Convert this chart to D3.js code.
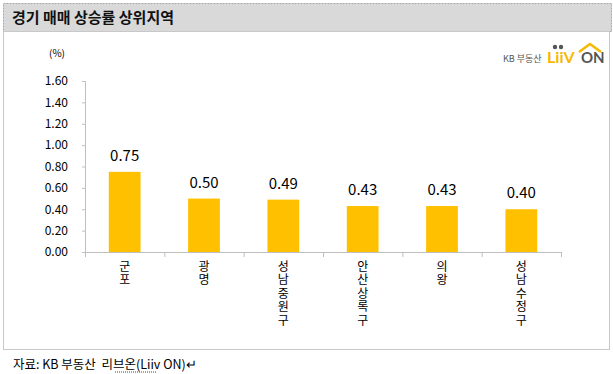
<!DOCTYPE html>
<html>
<head>
<meta charset="utf-8">
<script src="https://cdn.jsdelivr.net/npm/d3@7"></script>
<style>
  body { margin: 0; background: #fff; }
  svg { display: block; font-family: "Noto Sans CJK KR", "Noto Sans", sans-serif; }
</style>
</head>
<body>
<div id="container"></div>
<script>
// data
var regions = ["군포", "광명", "성남중원구", "안산상록구", "의왕", "성남수정구"]
var values = [0.75, 0.50, 0.49, 0.43, 0.43, 0.40]
var yTicks = [0, 0.2, 0.4, 0.6, 0.8, 1.0, 1.2, 1.4, 1.6]

var W = 613, H = 374
var svg = d3.select("#container").append("svg")
    .attr("width", W)
    .attr("height", H)

// title bar
svg.append("rect")
    .attr("x", 3.5).attr("y", 3.5)
    .attr("width", 608).attr("height", 28)
    .attr("fill", "#d9d9d9")
    .attr("stroke", "#a6a6a6")
    .attr("stroke-dasharray", "2,1")
svg.append("text")
    .attr("x", 12).attr("y", 23)
    .attr("font-size", 15)
    .attr("font-weight", "bold")
    .attr("fill", "#111")
    .text("경기 매매 상승률 상위지역")

// chart box
svg.append("rect")
    .attr("x", 3.5).attr("y", 31.5)
    .attr("width", 606).attr("height", 318)
    .attr("fill", "#fff")
    .attr("stroke", "#c8c8c8")

// logo
var logo = svg.append("g").attr("transform", "translate(503,62)")
logo.append("text")
    .attr("x", 0).attr("y", 0)
    .attr("font-size", 9)
    .attr("fill", "#555")
    .text("KB 부동산")
logo.append("text")
    .attr("x", 44).attr("y", 1)
    .attr("font-size", 16)
    .attr("font-weight", "bold")
    .attr("font-family", "Lato, sans-serif")
    .attr("fill", "#f6b800")
    .text("LiiV")
logo.append("circle").attr("cx", 52).attr("cy", -15).attr("r", 2.2).attr("fill", "#555")
logo.append("circle").attr("cx", 58).attr("cy", -15).attr("r", 2.2).attr("fill", "#555")
logo.append("text")
    .attr("x", 78).attr("y", 1)
    .attr("font-size", 15)
    .attr("font-weight", "bold")
    .attr("font-family", "Lato, sans-serif")
    .attr("fill", "#555")
    .text("ON")
logo.append("path")
    .attr("d", "M76,-10 L87,-18 L98,-10")
    .attr("fill", "none")
    .attr("stroke", "#f6b800")
    .attr("stroke-width", 2.5)

// scales
var x = d3.scaleBand()
    .domain(regions)
    .range([85, 561])
    .paddingInner(0.6)
    .paddingOuter(0.3)
var xb = d3.scaleBand().domain(regions).range([85, 561])

var y = d3.scaleLinear()
    .domain([0, 1.6])
    .range([252, 81])

// y axis
var yAxis = svg.append("g")
    .attr("transform", "translate(85,0)")
    .call(d3.axisLeft(y).tickValues(yTicks).tickSize(3).tickFormat(d3.format(".2f")))
yAxis.selectAll("path, line").attr("stroke", "#bfbfbf")
yAxis.selectAll("text")
    .attr("font-size", 12)
    .attr("font-family", "Noto Sans CJK KR")
    .attr("fill", "#000")
    .attr("x", -17)

svg.append("text")
    .attr("x", 57).attr("y", 57)
    .attr("font-size", 10)
    .attr("text-anchor", "middle")
    .text("(%)")

// bars
svg.append("g")
  .selectAll("rect")
  .data(values)
  .enter().append("rect")
    .attr("x", function(d, i) { return x(regions[i]) })
    .attr("y", function(d) { return y(d) })
    .attr("width", x.bandwidth())
    .attr("height", function(d) { return y(0) - y(d) })
    .attr("fill", "#ffc000")

// value labels
svg.append("g")
  .selectAll("text")
  .data(values)
  .enter().append("text")
    .attr("x", function(d, i) { return x(regions[i]) + x.bandwidth() / 2 })
    .attr("y", function(d) { return y(d) - 11 })
    .attr("text-anchor", "middle")
    .attr("font-size", 15)
    .attr("fill", "#000")
    .text(function(d) { return d.toFixed(2) })

// x axis
svg.append("line")
    .attr("x1", 85).attr("x2", 561)
    .attr("y1", 252.5).attr("y2", 252.5)
    .attr("stroke", "#bfbfbf")
svg.append("g")
  .selectAll("line")
  .data(d3.range(regions.length + 1))
  .enter().append("line")
    .attr("x1", function(i) { return 85.5 + i * xb.step() })
    .attr("x2", function(i) { return 85.5 + i * xb.step() })
    .attr("y1", 252).attr("y2", 257)
    .attr("stroke", "#bfbfbf")

// vertical category labels (upright, top to bottom)
svg.append("g")
  .selectAll("text")
  .data(regions)
  .enter().append("text")
    .attr("x", function(d) { return x(d) + x.bandwidth() / 2 })
    .attr("y", 260)
    .attr("font-size", 12)
    .attr("fill", "#000")
    .style("writing-mode", "vertical-rl")
    .style("text-orientation", "upright")
    .style("letter-spacing", "1.5px")
    .text(function(d) { return d })

// source
svg.append("text")
    .attr("x", 13).attr("y", 369)
    .attr("font-size", 12.5)
    .attr("fill", "#000")
    .attr("xml:space", "preserve")
    .style("white-space", "pre")
    .text("자료: KB 부동산  리브온(Liiv ON)↵")
svg.append("line")
    .attr("x1", 115).attr("x2", 157)
    .attr("y1", 372).attr("y2", 372)
    .attr("stroke", "#e00")
    .attr("stroke-dasharray", "1,1")
</script>
</body>
</html>
